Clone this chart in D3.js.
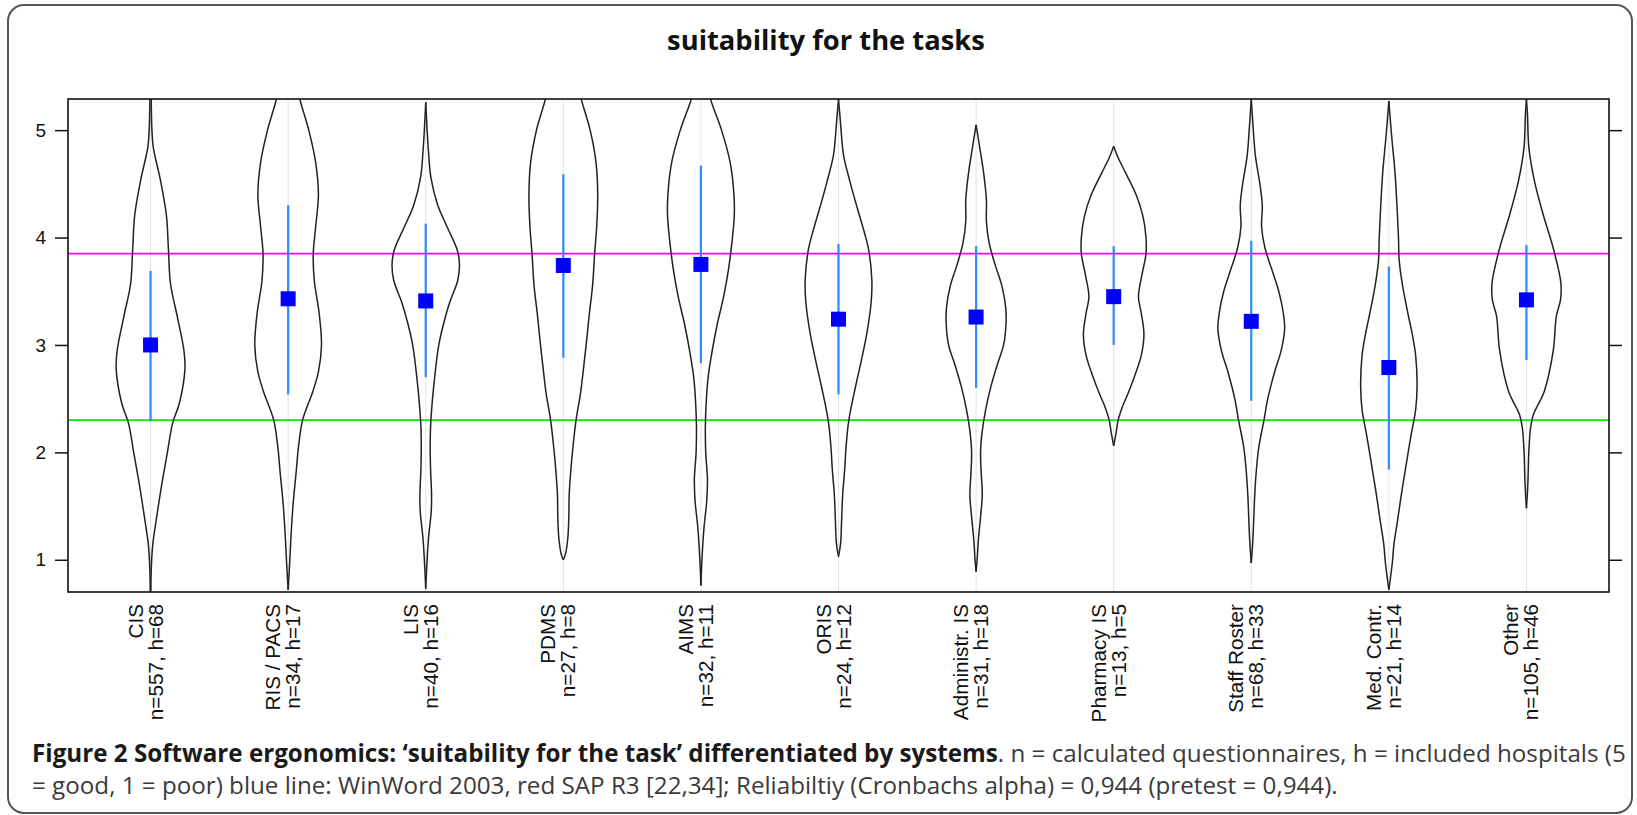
<!DOCTYPE html>
<html><head><meta charset="utf-8">
<script src="https://cdn.jsdelivr.net/npm/d3@7"></script>
<style>body{margin:0;background:#fff;} svg{display:block}</style>
</head><body><svg id="c" width="1637" height="815"></svg>
<script>
// ---- data ----
const categories = ["CIS","RIS / PACS","LIS","PDMS","AIMS","ORIS","Administr. IS","Pharmacy IS","Staff Roster","Med. Contr.","Other"];
const sampleLabels = ["n=557, h=68","n=34, h=17","n=40, h=16","n=27, h=8","n=32, h=11","n=24, h=12","n=31, h=18","n=13, h=5","n=68, h=33","n=21, h=14","n=105, h=46"];
const means = [3.00,3.43,3.41,3.74,3.75,3.24,3.26,3.45,3.22,2.79,3.42];
const lows  = [2.29,2.54,2.70,2.88,2.83,2.54,2.60,3.00,2.48,1.84,2.86];
const highs = [3.69,4.30,4.13,4.59,4.67,3.94,3.92,3.92,3.97,3.73,3.93];
const refWinWord = 3.85;   // magenta line
const refSAP = 2.30;       // green line
const yTicks = [1,2,3,4,5];
const titleText = "suitability for the tasks";

// violin outlines: [score, relative density]
const violinCIS = [[5.29,0.02],[5.0,0.04],[4.84,0.08],[4.53,0.29],[4.21,0.46],[3.89,0.52],[3.57,0.58],[3.26,0.78],[2.95,0.97],[2.78,1.0],[2.46,0.84],[2.27,0.64],[2.0,0.49],[1.69,0.32],[1.38,0.17],[1.13,0.06],[0.9,0.02],[0.7,0.01]];
const violinRIS = [[5.40,0.28],[5.29,0.34],[5.0,0.6],[4.7,0.8],[4.4,0.88],[4.1,0.8],[3.85,0.73],[3.6,0.76],[3.3,0.9],[3.0,0.97],[2.75,0.88],[2.57,0.72],[2.3,0.42],[2.05,0.3],[1.84,0.24],[1.5,0.14],[1.2,0.08],[1.0,0.05],[0.72,0.0]];
const violinLIS = [[5.26,0.0],[5.0,0.04],[4.8,0.08],[4.56,0.15],[4.3,0.35],[4.1,0.62],[3.88,0.92],[3.75,0.98],[3.6,0.93],[3.4,0.7],[3.2,0.52],[3.0,0.38],[2.7,0.26],[2.3,0.15],[2.1,0.13],[1.85,0.14],[1.6,0.17],[1.45,0.16],[1.2,0.08],[1.0,0.04],[0.73,0.0]];
const violinPDMS = [[5.40,0.45],[5.29,0.52],[5.0,0.78],[4.7,0.95],[4.4,1.0],[4.1,0.97],[3.85,0.91],[3.55,0.85],[3.3,0.76],[3.05,0.68],[2.82,0.6],[2.55,0.5],[2.3,0.37],[2.05,0.28],[1.84,0.22],[1.6,0.17],[1.4,0.16],[1.2,0.13],[1.05,0.06],[1.0,0.0]];
const violinAIMS = [[5.40,0.22],[5.29,0.28],[5.0,0.6],[4.7,0.85],[4.4,0.96],[4.2,0.97],[3.95,0.9],[3.7,0.8],[3.45,0.66],[3.2,0.48],[2.95,0.33],[2.7,0.21],[2.5,0.16],[2.25,0.13],[2.0,0.14],[1.75,0.19],[1.55,0.17],[1.3,0.09],[1.0,0.03],[0.76,0.0]];
const violinORIS = [[5.29,0.0],[5.1,0.05],[4.9,0.1],[4.76,0.15],[4.5,0.35],[4.27,0.55],[4.05,0.75],[3.88,0.88],[3.6,0.97],[3.4,0.95],[3.1,0.82],[2.85,0.66],[2.62,0.5],[2.3,0.3],[2.05,0.22],[1.84,0.18],[1.6,0.12],[1.36,0.09],[1.15,0.06],[1.03,0.0]];
const violinAdmin = [[5.05,0.0],[4.85,0.1],[4.6,0.22],[4.35,0.3],[4.15,0.3],[3.95,0.38],[3.75,0.55],[3.55,0.75],[3.35,0.86],[3.2,0.87],[3.0,0.8],[2.8,0.6],[2.6,0.42],[2.4,0.28],[2.2,0.18],[2.0,0.13],[1.8,0.15],[1.6,0.18],[1.4,0.13],[1.2,0.07],[1.0,0.03],[0.89,0.0]];
const violinPharm = [[4.85,0.0],[4.75,0.12],[4.6,0.35],[4.4,0.65],[4.2,0.85],[4.0,0.94],[3.85,0.94],[3.65,0.82],[3.45,0.72],[3.3,0.8],[3.1,0.88],[2.9,0.8],[2.72,0.62],[2.55,0.42],[2.43,0.26],[2.3,0.13],[2.2,0.08],[2.06,0.0]];
const violinStaff = [[5.29,0.0],[5.0,0.06],[4.76,0.12],[4.5,0.25],[4.3,0.32],[4.1,0.3],[3.9,0.4],[3.7,0.6],[3.5,0.8],[3.3,0.93],[3.15,0.97],[2.95,0.87],[2.75,0.68],[2.5,0.48],[2.3,0.37],[2.05,0.22],[1.84,0.15],[1.6,0.1],[1.36,0.07],[1.15,0.04],[0.97,0.0]];
const violinMed = [[5.27,0.0],[4.95,0.08],[4.6,0.18],[4.27,0.24],[4.0,0.28],[3.79,0.3],[3.55,0.4],[3.3,0.55],[3.1,0.68],[2.9,0.78],[2.62,0.82],[2.4,0.78],[2.15,0.64],[1.84,0.48],[1.6,0.36],[1.36,0.25],[1.15,0.15],[0.97,0.1],[0.72,0.0]];
const violinOther = [[5.29,0.0],[5.15,0.03],[4.84,0.07],[4.53,0.23],[4.21,0.49],[3.9,0.78],[3.58,1.0],[3.42,0.99],[3.27,0.87],[2.95,0.78],[2.57,0.52],[2.35,0.2],[2.23,0.12],[2.01,0.07],[1.7,0.04],[1.48,0.0]];
const violins = [violinCIS,violinRIS,violinLIS,violinPDMS,violinAIMS,violinORIS,violinAdmin,violinPharm,violinStaff,violinMed,violinOther];

const captionBold = "Figure 2 Software ergonomics: \u2018suitability for the task\u2019 differentiated by systems";
const captionRest1 = ". n = calculated questionnaires, h = included hospitals (5";
const captionLine2 = "= good, 1 = poor) blue line: WinWord 2003, red SAP R3 [22,34]; Reliabiltiy (Cronbachs alpha) = 0,944 (pretest = 0,944).";

// ---- layout ----
const svg = d3.select("#c");
const L = 68, R = 1609, T = 99, B = 592;
const x = d3.scaleLinear().domain([0.4, 11.6]).range([L, R]);
const y = d3.scaleLinear().domain([0.70, 5.29]).range([B, T]);
const halfMax = 0.25;

// outer frame
svg.append("rect").attr("x", 8).attr("y", 5).attr("width", 1624).attr("height", 808)
  .attr("rx", 16).attr("fill", "none").attr("stroke", "#555").attr("stroke-width", 2);

// title
const title = svg.append("text").attr("x", 826).attr("y", 50).attr("text-anchor", "middle")
  .attr("font-family", "'Open Sans', sans-serif").attr("font-weight", 700)
  .attr("font-size", 24).attr("fill", "#111").text(titleText);
{ const w = title.node().getComputedTextLength(); title.attr("font-size", 24 * 318 / w); }

svg.append("clipPath").attr("id", "pc").append("rect")
  .attr("x", L).attr("y", T).attr("width", R - L).attr("height", B - T);
const plot = svg.append("g").attr("clip-path", "url(#pc)");

// light category reference lines
plot.selectAll("line.ref").data(categories).join("line")
  .attr("x1", (d, i) => x(i + 1)).attr("x2", (d, i) => x(i + 1))
  .attr("y1", T).attr("y2", B).attr("stroke", "#e4e4e4").attr("stroke-width", 1);

// horizontal reference lines
plot.append("line").attr("x1", L).attr("x2", R).attr("y1", y(refWinWord)).attr("y2", y(refWinWord))
  .attr("stroke", "#ff00ff").attr("stroke-width", 1.6);
plot.append("line").attr("x1", L).attr("x2", R).attr("y1", y(refSAP)).attr("y2", y(refSAP))
  .attr("stroke", "#00ee00").attr("stroke-width", 1.6);

// violins
violins.forEach((v, i) => {
  [1, -1].forEach(side => {
    const line = d3.line()
      .x(d => x(i + 1 + side * d[1] * halfMax))
      .y(d => y(d[0]))
      .curve(d3.curveCatmullRom.alpha(0.5));
    plot.append("path").attr("d", line(v)).attr("fill", "none")
      .attr("stroke", "#222").attr("stroke-width", 1.5);
  });
});

// error bars
plot.selectAll("line.err").data(means).join("line")
  .attr("x1", (d, i) => x(i + 1)).attr("x2", (d, i) => x(i + 1))
  .attr("y1", (d, i) => y(highs[i])).attr("y2", (d, i) => y(lows[i]))
  .attr("stroke", "#2a8cff").attr("stroke-width", 2.2);
const sq = 15;
plot.selectAll("rect.mean").data(means).join("rect")
  .attr("x", (d, i) => x(i + 1) - sq / 2).attr("y", d => y(d) - sq / 2)
  .attr("width", sq).attr("height", sq).attr("fill", "#0000ff");

// axes
const fontAx = "'Liberation Sans', Arial, sans-serif";
const ax = svg.append("g").attr("transform", `translate(${L},0)`)
  .call(d3.axisLeft(y).tickValues(yTicks).tickSize(13).tickPadding(9).tickFormat(d3.format("d")));
ax.select(".domain").remove();
ax.selectAll("line").attr("stroke", "#111").attr("stroke-width", 1.5);
ax.selectAll("text").attr("font-family", fontAx).attr("font-size", 19).attr("fill", "#111");
const axr = svg.append("g").attr("transform", `translate(${R},0)`)
  .call(d3.axisRight(y).tickValues(yTicks).tickSize(13).tickFormat(""));
axr.select(".domain").remove();
axr.selectAll("line").attr("stroke", "#111").attr("stroke-width", 1.5);

// plot border
svg.append("rect").attr("x", L).attr("y", T).attr("width", R - L).attr("height", B - T)
  .attr("fill", "none").attr("stroke", "#111").attr("stroke-width", 1.6);

// x labels (rotated)
categories.forEach((c, i) => {
  const g = svg.append("g").attr("transform", `translate(${x(i + 1)},604) rotate(-90)`);
  g.append("text").attr("x", 0).attr("y", -8).attr("text-anchor", "end")
    .attr("font-family", fontAx).attr("font-size", 20.7).attr("fill", "#111").text(c);
  g.append("text").attr("x", 0).attr("y", 12).attr("text-anchor", "end")
    .attr("font-family", fontAx).attr("font-size", 20.7).attr("fill", "#111").text(sampleLabels[i]);
});

// caption
const capFont = "'Open Sans', sans-serif";
const cap1 = svg.append("text").attr("x", 32).attr("y", 762)
  .attr("font-family", capFont).attr("font-size", 19);
cap1.append("tspan").attr("font-weight", 700).attr("fill", "#1a1a1a").text(captionBold);
cap1.append("tspan").attr("fill", "#3a3a3a").text(captionRest1);
const cap2 = svg.append("text").attr("x", 32).attr("y", 794)
  .attr("font-family", capFont).attr("font-size", 19).attr("fill", "#3a3a3a").text(captionLine2);
{
  const w = cap1.node().getComputedTextLength();
  const fs = 19 * 1595 / w;
  cap1.attr("font-size", fs); cap2.attr("font-size", fs);
}
</script></body></html>
